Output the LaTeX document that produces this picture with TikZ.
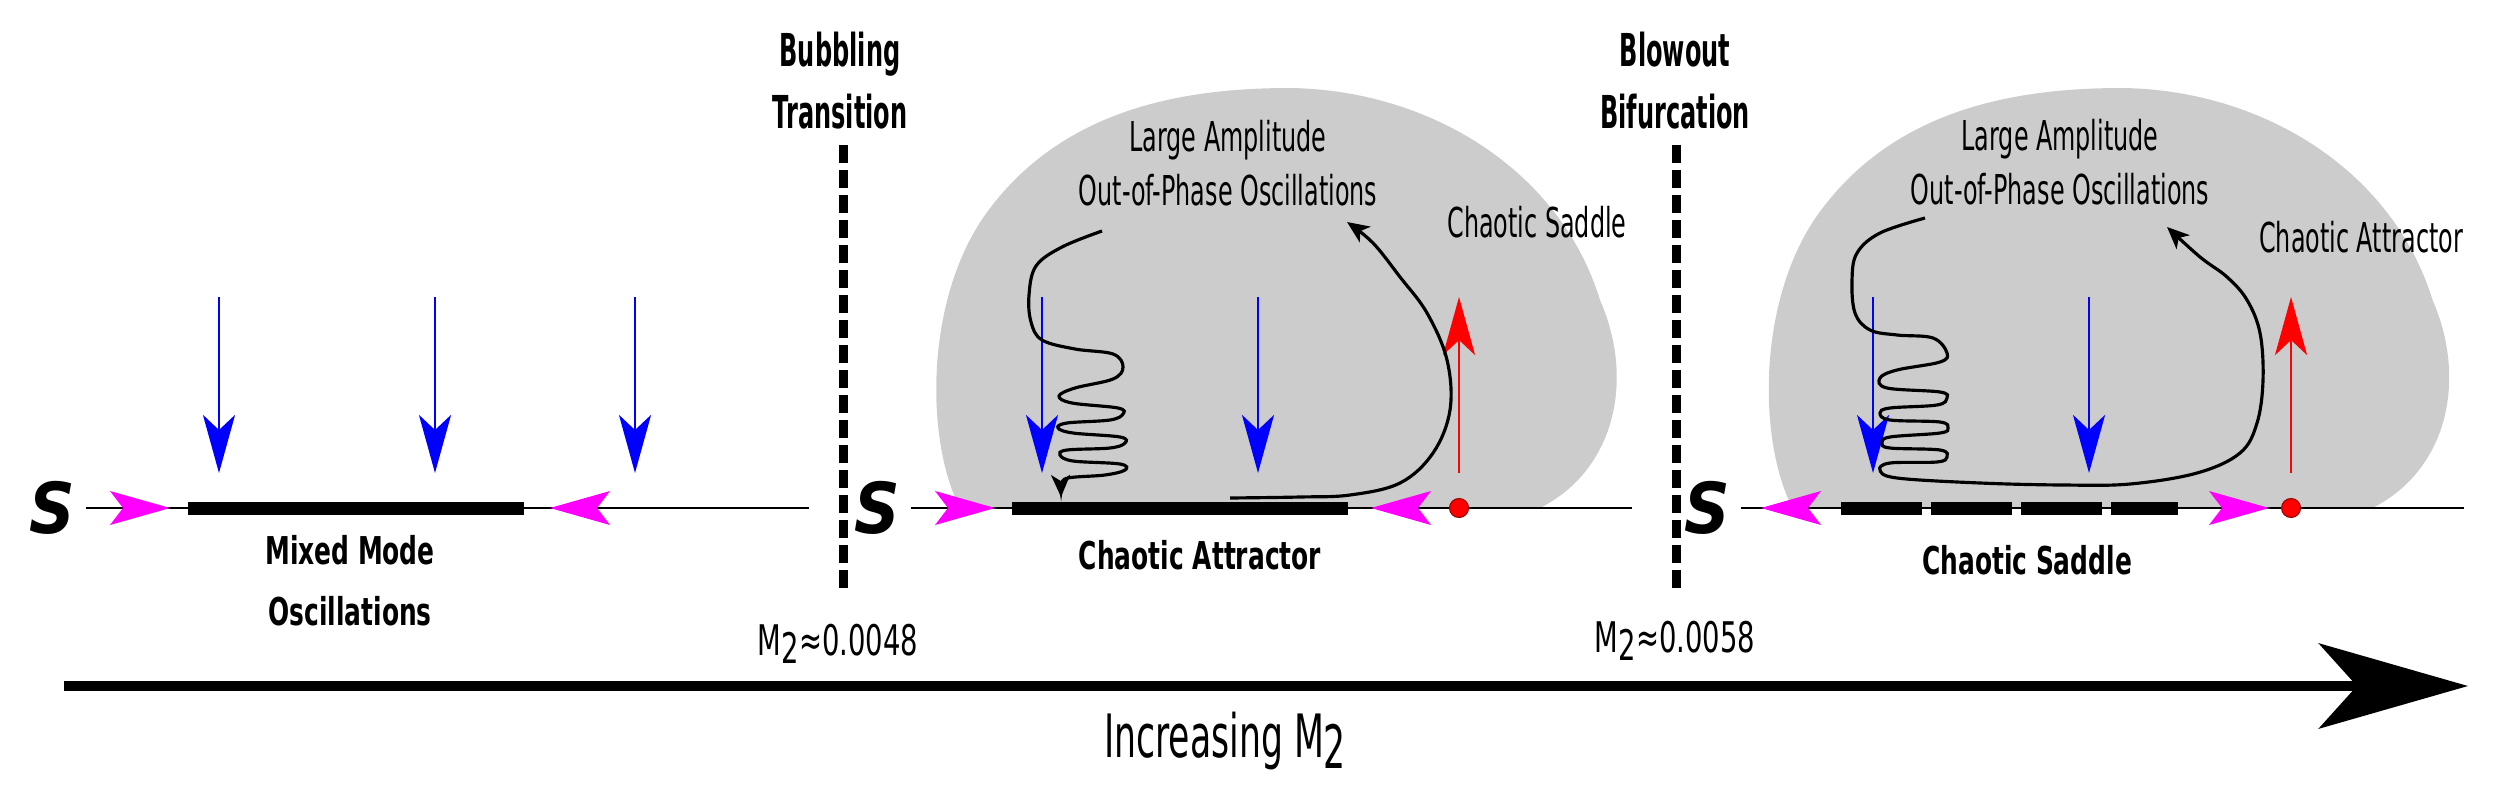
\documentclass[tikz,border=0pt]{standalone}
\usepackage{fontspec}
\setmainfont{DejaVu Sans}
\newfontfamily\lblfont[FakeStretch=0.58]{DejaVu Sans}
\newfontfamily\bldfont[FakeStretch=0.65]{DejaVu Sans}
\newfontfamily\hdfont[FakeStretch=0.53]{DejaVu Sans}
\newfontfamily\sfont[FakeStretch=0.9]{DejaVu Sans}
\usetikzlibrary{arrows.meta}
\definecolor{flowmag}{RGB}{255,0,255}
\newcommand{\Mtwo}{M\raisebox{-0.35ex}{2}}

\begin{document}
\begin{tikzpicture}[
  x=0.01cm, y=-0.01cm,
  blob/.style={fill=black!20},
  phase/.style={line width=0.57pt},
  bar/.style={fill=black, inner sep=0, minimum height=0.13cm},
  dashbar/.style={line width=0.13cm, dash pattern=on 0.81cm off 0.09cm},
  border/.style={line width=0.09cm, dash pattern=on 0.18cm off 0.07cm},
  pull/.style={blue, line width=0.8pt, -{Stealth[length=0.58cm, width=0.32cm, inset=0.15cm]}},
  push/.style={red, line width=0.8pt, -{Stealth[length=0.58cm, width=0.32cm, inset=0.15cm]}},
  orbit/.style={line width=0.9pt, -{Stealth[length=0.22cm, width=0.19cm, inset=0.06cm]}},
  fix/.style={circle, fill=red, draw=red!60!black, line width=0.3pt, inner sep=0, minimum size=0.19cm},
  saddle/.style={font=\sfont\bfseries\itshape\fontsize{20}{20}\selectfont, inner sep=0.1cm},
  lbl/.style={font=\lblfont\fontsize{11.7}{15.1}\selectfont, align=center, inner sep=0},
  val/.style={font=\bldfont\fontsize{12}{14}\selectfont, inner sep=0},
  blbl/.style={font=\bldfont\bfseries\fontsize{10.9}{17.1}\selectfont, align=center, inner sep=0},
  head/.style={font=\hdfont\bfseries\fontsize{12.9}{17.4}\selectfont, align=center, inner sep=0},
  flow/.pic={\fill[flowmag] (0,0) -- (-60,-17) -- (-47,0) -- (-60,17) -- cycle;},
]
  \useasboundingbox (0,0) rectangle (2498,800);

  % Grey basins of the large amplitude oscillations
  \foreach \dx in {0,8.32} {
    \fill[blob, xshift=\dx cm] (960,508) .. controls (925,440) and (925,300) .. (985,215)
      .. controls (1060,110) and (1180,88) .. (1290,88)
      .. controls (1430,90) and (1560,170) .. (1600,300)
      .. controls (1635,380) and (1615,470) .. (1540,508) -- cycle;
  }

  % ── Mixed mode regime ──
  \node[saddle] (s1) at (52,508) {S};
  \coordinate (e1) at (809,508);
  \draw[phase] (s1.east) -- (e1);
  \node[bar, minimum width=3.36cm] (mmo) at (356,508) {};
  \pic at (170,508) {flow};
  \pic[rotate=180] at (550,508) {flow};
  \foreach \x [count=\i] in {219,435,635} {
    \coordinate (t1\i) at (\x,297); \coordinate (h1\i) at (\x,473);
    \draw[pull] (t1\i) -- (h1\i);
  }
  \node[blbl, anchor=base] (mmolbl) at (350,625) {Mixed Mode\\Oscillations};

  % Bubbling transition
  \node[head, anchor=base] (bub) at (840,128) {Bubbling\\Transition};
  \coordinate (bt1) at (843,145); \coordinate (bb1) at (843,590);
  \draw[border] (bt1) -- (bb1);
  \node[val, anchor=base] (m48) at (838,655) {\Mtwo≈0.0048};

  % ── Chaotic attractor regime ──
  \node[saddle] (s2) at (877,508) {S};
  \coordinate (e2) at (1632,508);
  \draw[phase] (s2.east) -- (e2);
  \node[bar, minimum width=3.36cm] (ca) at (1180,508) {};
  \pic at (995,508) {flow};
  \pic[rotate=180] at (1371,508) {flow};
  \node[fix] (fix2) at (1459,508) {};
  \coordinate (u2) at (1459,297);
  \draw[push, shorten <=0.25cm] (fix2) -- (u2);
  \foreach \x [count=\i] in {1042,1258} {
    \coordinate (t2\i) at (\x,297); \coordinate (h2\i) at (\x,473);
    \draw[pull] (t2\i) -- (h2\i);
  }
  \draw[orbit] plot[smooth, tension=0.6] coordinates {
    (1102,231) (1062,247) (1036,266) (1029,295) (1031,322) (1042,340) (1075,349)
    (1113,354) (1123,367) (1113,379) (1075,388) (1059,396) (1072,403) (1118,408)
    (1123,414) (1110,420) (1067,423) (1058,428) (1073,433) (1120,437) (1125,443)
    (1110,448) (1067,450) (1060,455) (1073,461) (1120,464) (1125,470) (1105,475)
    (1068,478) (1062,485) (1061,497)};
  \draw[orbit] plot[smooth, tension=0.6] coordinates {
    (1230,498) (1300,497) (1350,495) (1400,483) (1433,453) (1450,410) (1447,360)
    (1427,313) (1400,277) (1373,243) (1347,222)};
  \node[lbl, anchor=base] (amp2) at (1228,205) {Large Amplitude\\Out-of-Phase Oscillations};
  \node[lbl, anchor=base] (cs2) at (1537,237) {Chaotic Saddle};
  \node[blbl, anchor=base] (calbl) at (1200,569) {Chaotic Attractor};

  % Blowout bifurcation
  \node[head, anchor=base] (blo) at (1675,128) {Blowout\\Bifurcation};
  \coordinate (bt2) at (1676,145); \coordinate (bb2) at (1676,590);
  \draw[border] (bt2) -- (bb2);
  \node[val, anchor=base] (m58) at (1675,652) {\Mtwo≈0.0058};

  % ── Chaotic saddle regime ──
  \node[saddle] (s3) at (1707,508) {S};
  \coordinate (e3) at (2464,508);
  \draw[phase] (s3.east) -- (e3);
  \node[bar, fill=none, minimum width=3.35cm] (cs) at (2009.5,508) {};
  \draw[dashbar] (cs.west) -- (cs.east);
  \pic[rotate=180] at (1761,508) {flow};
  \pic at (2269,508) {flow};
  \node[fix] (fix3) at (2291,508) {};
  \coordinate (u3) at (2291,297);
  \draw[push, shorten <=0.25cm] (fix3) -- (u3);
  \foreach \x [count=\i] in {1873,2089} {
    \coordinate (t3\i) at (\x,297); \coordinate (h3\i) at (\x,473);
    \draw[pull] (t3\i) -- (h3\i);
  }
  \draw[orbit] plot[smooth, tension=0.6] coordinates {
    (1925,218) (1880,233) (1857,253) (1852,280) (1855,313) (1870,330) (1897,335)
    (1933,338) (1947,353) (1940,362) (1897,370) (1880,378) (1887,388) (1940,392)
    (1947,398) (1937,405) (1890,408) (1880,413) (1890,420) (1940,422) (1948,428)
    (1940,433) (1890,437) (1882,443) (1890,448) (1940,450) (1947,457) (1937,462)
    (1890,463) (1880,470) (1897,478) (1980,483) (2063,485) (2130,484) (2197,473)
    (2240,453) (2257,423) (2263,380) (2260,333) (2247,300) (2227,277) (2200,257)
    (2167,227)};
  \node[lbl, anchor=base] (amp3) at (2060,204) {Large Amplitude\\Out-of-Phase Oscillations};
  \node[lbl, anchor=base] (ca3) at (2361,252) {Chaotic Attractor};
  \node[blbl, anchor=base] (cslbl) at (2027,574) {Chaotic Saddle};

  % Parameter axis
  \coordinate (axL) at (64,686);
  \coordinate (axR) at (2468,686);
  \draw[line width=0.095cm, -{Stealth[length=1.49cm, width=0.85cm, inset=0.38cm]}] (axL) -- (axR);
  \node[lbl, font=\lblfont\fontsize{17}{20}\selectfont, anchor=base] (inc) at (1225,757) {Increasing \Mtwo};
\end{tikzpicture}
\end{document}
